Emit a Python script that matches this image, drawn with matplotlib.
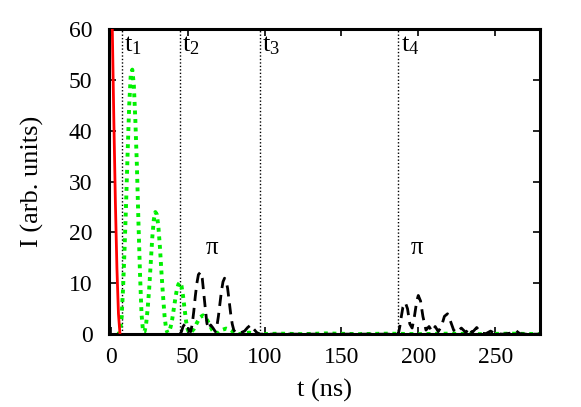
import numpy as np
import matplotlib
matplotlib.use("Agg")
import matplotlib.pyplot as plt

plt.rcParams["font.family"] = ["Liberation Serif", "DejaVu Serif"]
plt.rcParams["mathtext.fontset"] = "custom"
plt.rcParams["mathtext.rm"] = "Liberation Serif"
plt.rcParams["mathtext.it"] = "Liberation Serif"

# red: initial pulse
red_t = [0.0, 1.0, 2.0, 3.0, 4.0, 5.0, 6.0]
red_i = [75.0, 60.0, 42.0, 26.0, 13.0, 4.0, 0.0]

# green dotted: transmitted signal
green_t = [4, 5, 6, 7, 8, 9, 10, 11, 12, 13, 14, 15, 16, 17, 18, 19, 20, 21,
           22, 23, 24, 25, 26, 27, 28, 29, 30, 31, 32, 33, 34, 35, 36, 37,
           38, 39, 40, 41, 42, 43, 44, 45, 46, 47, 48, 49, 50, 51,
           52, 54, 56, 58, 60, 62, 64, 66, 68, 70, 72, 75, 78, 81, 83,
           86, 90, 94, 98, 110, 125, 140, 160, 180, 200, 220, 240, 260, 280]
green_i = [0.0, 0.0, 0.5, 3, 9, 17, 26, 36, 45, 51, 52, 49, 42, 33, 22, 12, 4, 0.5,
           0.5, 2, 5, 9, 14, 19, 22.5, 24, 23.5, 21, 17, 12, 7.5, 3.5, 1, 0.2,
           0.5, 1.5, 3, 5, 7, 8.8, 9.8, 10.2, 9.5, 7.5, 5, 2.5, 1, 0.2,
           0.3, 1, 2.2, 3.3, 3.7, 3.2, 2, 0.8, 0.1, 0.3, 0.8, 1.1, 0.8, 0.2, 0.0,
           0.1, 0.3, 0.1, 0.0, 0.1, 0.0, 0.15, 0.0, 0.1, 0.0, 0.1, 0.0, 0.1, 0.0]

# black dashed: echo signal
black_t = [45, 46, 47, 48.7, 50, 51, 52, 53, 54, 55, 56, 57, 58.4, 59.5, 60.5, 61.5, 62.5, 63.5,
           65, 66.5, 68, 69, 70, 71, 72, 73, 74, 75, 76, 77, 78, 79, 80, 81.5,
           84, 87, 89, 91, 92, 93, 95, 97, 120, 150, 186,
           187, 188, 189, 190, 191.6, 193, 194.5, 196, 197.5, 199, 200, 201.5, 203, 205,
           207, 209, 211, 213, 215, 217, 219, 221, 223, 225, 228, 231, 233, 235, 238, 241,
           244, 247, 250, 255, 260, 263, 266, 270, 280]
black_i = [0.0, 0.5, 1.5, 2.2, 1.5, 0.6, 0.5, 2, 4.5, 7.5, 10, 11.7, 12.2, 11, 8, 5, 2.2, 1,
           1.8, 1.2, 0.5, 1.5, 3.5, 6, 8.5, 10.3, 11, 10.5, 9, 6.5, 4, 2, 0.8, 0.2,
           0.2, 0.6, 1.3, 1.8, 1.6, 1, 0.3, 0.0, 0.0, 0.0, 0.0,
           0.0, 1.5, 3.5, 5.3, 6.2, 5, 2, 1.2, 3.5, 6.5, 7.6, 6.5, 3.5, 0.8,
           1.5, 0.5, 1.5, 0.5, 1.5, 3.5, 4, 2.5, 0.8, 0.3, 1.2, 0.3, 1.3, 0.3, 1.3, 0.2,
           0.1, 0.6, 0.1, 0.0, 0.2, 0.8, 0.1, 0.0, 0.0]

# marker times
t_marks = [7, 45, 97, 187]
t_labels = ["t$_1$", "t$_2$", "t$_3$", "t$_4$"]
pi_pos = [(66, 17), (199, 17)]

fig = plt.figure(figsize=(5.81, 4.07), dpi=100)
ax = fig.add_axes([0.188, 0.179, 0.741, 0.750])

for tm in t_marks:
    ax.axvline(tm, color="black", lw=1.0, ls=(0, (1, 1.5)), zorder=1)

ax.plot(green_t, green_i, color="#00f000", lw=2.8, ls=(0, (1, 1.2)), zorder=2)
ax.plot(black_t, black_i, color="black", lw=2.0, ls=(0, (4, 2.5)), zorder=3)
ax.plot(red_t, red_i, color="#ff0000", lw=2.0, zorder=4)

for tm, lab in zip(t_marks, t_labels):
    ax.text(tm + 1.5, 59, lab, fontsize=19, ha="left", va="top")
for x, y in pi_pos:
    ax.text(x, y, "π", fontsize=18, ha="center", va="center")

ax.set_xlim(-1, 279)
ax.set_ylim(0, 60)
ax.set_xticks(np.arange(0, 251, 50))
ax.set_yticks(np.arange(0, 61, 10))
ax.tick_params(direction="in", length=5, width=1.2, top=True, right=True,
               labelsize=17, pad=9)
ax.tick_params(axis="y", pad=12)
for s in ax.spines.values():
    s.set_linewidth(2.2)

ax.set_xlabel("t (ns)", fontsize=19, labelpad=8)
ax.set_ylabel("I (arb. units)", fontsize=19, labelpad=18)

fig.savefig("out.png", dpi=100)
